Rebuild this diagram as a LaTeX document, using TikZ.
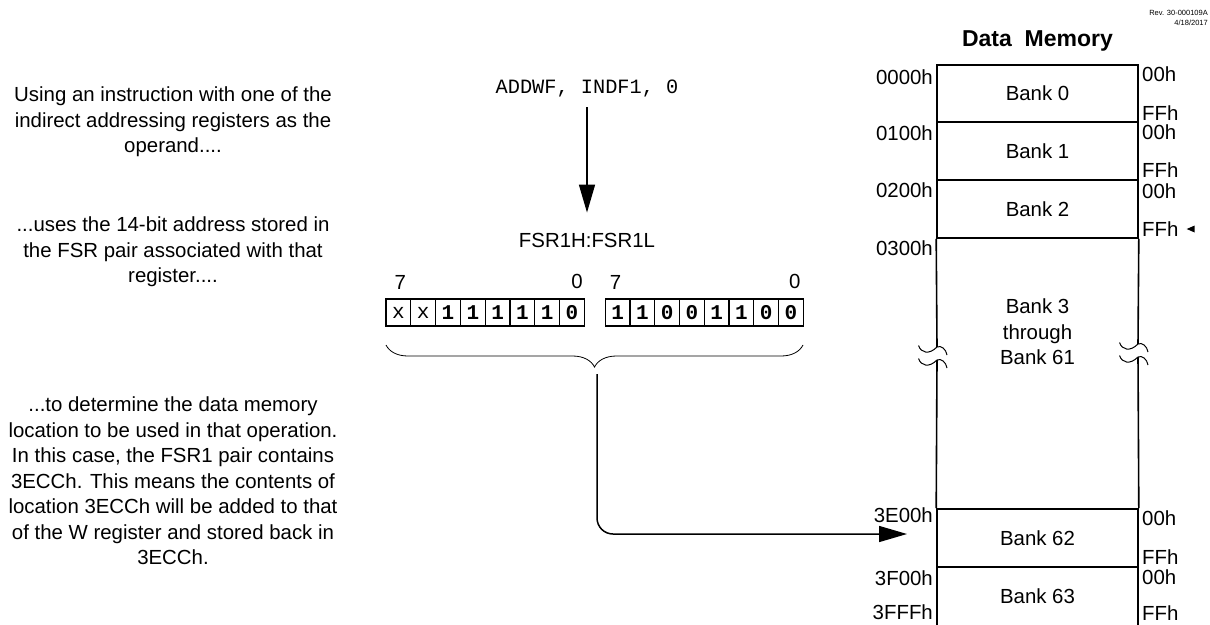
\documentclass[tikz,border=0pt]{standalone}
\usepackage{fontspec}
\setmainfont{Liberation Sans}
\setmonofont{Liberation Mono}
\usetikzlibrary{arrows.meta}
\usetikzlibrary{decorations.pathreplacing}
\usetikzlibrary{positioning}
\colorlet{background}{white}
\colorlet{penColor}{black}
\newcommand{\txtfont}{\fontsize{20.4}{25.5}\selectfont}
\tikzset{>={Triangle[length=28pt,width=16pt]}}
\tikzset{
  note/.style={font=\txtfont, align=center, inner sep=1pt},
  memlabel/.style={font=\txtfont, inner sep=1pt},
  bank/.style={draw=penColor, line width=1.6pt, minimum width=201pt, inner sep=0pt, font=\txtfont},
  wall/.style={penColor, line width=1.6pt},
  bitbox/.style={draw=penColor, line width=1.3pt, minimum width=24.8pt, minimum height=27pt, inner sep=0pt, font=\fontsize{21}{21}\selectfont\ttfamily\bfseries},
  squig/.pic={\draw[penColor, line width=1pt] (-18.5,-1.5) .. controls (-16,6) and (-8,8) .. (0,0) .. controls (4,-2) and (9,2) .. (10,8);}
}

\begin{document}
\begin{tikzpicture}[x=1pt,y=-1pt]
				\useasboundingbox (0,0) rectangle (1210,624);
				% explanation on the left
				\node[note] (note1) at (173,122) {Using an instruction with one of the\\indirect addressing registers as the\\operand....};
				\node[note] (note2) at (173,252) {...uses the 14-bit address stored in\\the FSR pair associated with that\\register....};
				\node[note] (note3) at (173,481) {...to determine the data memory\\location to be used in that operation.\\In this case, the FSR1 pair contains\\3ECCh. This means the contents of\\location 3ECCh will be added to that\\of the W register and stored back in\\3ECCh.};
				
				% instruction and FSR pair
				\node[font=\fontsize{20.3}{20}\selectfont\ttfamily] (instr) at (587,89) {ADDWF, INDF1, 0};
				\node[memlabel] (fsr) at (587,240) {FSR1H:FSR1L};
				\draw[->, penColor, line width=1.5pt, shorten <=6pt, shorten >=19pt] (instr) -- (fsr);
				
				\foreach \b [count=\i] in {{\mdseries x},{\mdseries x},1,1,1,1,1,0}
					\node[bitbox] (hi\i) at ({373.6+\i*24.8},312.5) {\b};
				\foreach \b [count=\i] in {1,1,0,0,1,1,0,0}
					\node[bitbox] (lo\i) at ({592.8+\i*24.75},312.5) {\b};
				\node[memlabel, above=8pt of hi1, xshift=2pt] (hiseven) {7};
				\node[memlabel, above=8pt of hi8, xshift=5pt] (hizero) {0};
				\node[memlabel, above=8pt of lo1, xshift=-2pt] (loseven) {7};
				\node[memlabel, above=8pt of lo8, xshift=4pt] (lozero) {0};
				
				\coordinate (brR) at (803,345);
				\coordinate (brL) at (386,345);
				\draw[decorate, decoration={brace, amplitude=22pt}, penColor, line width=0.8pt] (brR) -- (brL);
				\coordinate (brtip) at (597,374);
				\coordinate (tgt) at (907,534);
				\draw[->, penColor, line width=1.5pt, rounded corners=16pt] (brtip) |- (tgt);
				
				% data memory
				\node[font=\fontsize{23}{23}\selectfont\bfseries] (title) at (1037.5,41) {Data\ \ Memory};
				\node[font=\fontsize{7.5}{10}\selectfont, align=right, anchor=north east, inner sep=0pt] (rev) at (1208,10) {Rev. 30-000109A\\4/18/2017};
				\node[bank, minimum height=57pt] (bank0) at (1037.5,93.5) {Bank 0};
				\node[bank, minimum height=58pt] (bank1) at (1037.5,151) {Bank 1};
				\node[bank, minimum height=58pt] (bank2) at (1037.5,209) {Bank 2};
				\node[bank, minimum height=58pt] (bank62) at (1037.5,538) {Bank 62};
				\node[bank, minimum height=59pt] (bank63) at (1037.5,596.5) {Bank 63};
				\node[note] (bankmid) at (1037.5,332) {Bank 3\\through\\Bank 61};
				\draw[wall] (bank2.south west) -- (937,347);
				\draw[wall] (937,360) -- (bank62.north west);
				\draw[wall] (bank2.south east) -- (1138,344);
				\draw[wall] (1138,357) -- (bank62.north east);
				\pic at (937,347) {squig};
				\pic at (937,360) {squig};
				\pic at (1138,344) {squig};
				\pic at (1138,357) {squig};
				
				\node[memlabel, anchor=east] (a0000) at (934,77) {0000h};
				\node[memlabel, anchor=east] (a0100) at (934,133) {0100h};
				\node[memlabel, anchor=east] (a0200) at (934,190) {0200h};
				\node[memlabel, anchor=east] (a0300) at (934,248) {0300h};
				\node[memlabel, anchor=east] (a3E00) at (934,515) {3E00h};
				\node[memlabel, anchor=east] (a3F00) at (934,578) {3F00h};
				\node[memlabel, anchor=east] (a3FFF) at (934,612) {3FFFh};
				
				\node[memlabel, anchor=west] (lo0) at (1141,74) {00h};
				\node[memlabel, anchor=west] (hi0) at (1141,113) {FFh};
				\node[memlabel, anchor=west] (lo1b) at (1141,132) {00h};
				\node[memlabel, anchor=west] (hi1b) at (1141,170) {FFh};
				\node[memlabel, anchor=west] (lo2b) at (1141,191) {00h};
				\node[memlabel, anchor=west] (hi2b) at (1141,229) {FFh};
				\node[memlabel, anchor=west] (lo62) at (1141,518) {00h};
				\node[memlabel, anchor=west] (hi62) at (1141,557) {FFh};
				\node[memlabel, anchor=west] (lo63) at (1141,577) {00h};
				\node[memlabel, anchor=west] (hi63) at (1141,613) {FFh};
				\fill[penColor] ([xshift=7pt]hi2b.east) -- ++(8,-3.5) -- ++(0,7) -- cycle;
\end{tikzpicture}
\end{document}
